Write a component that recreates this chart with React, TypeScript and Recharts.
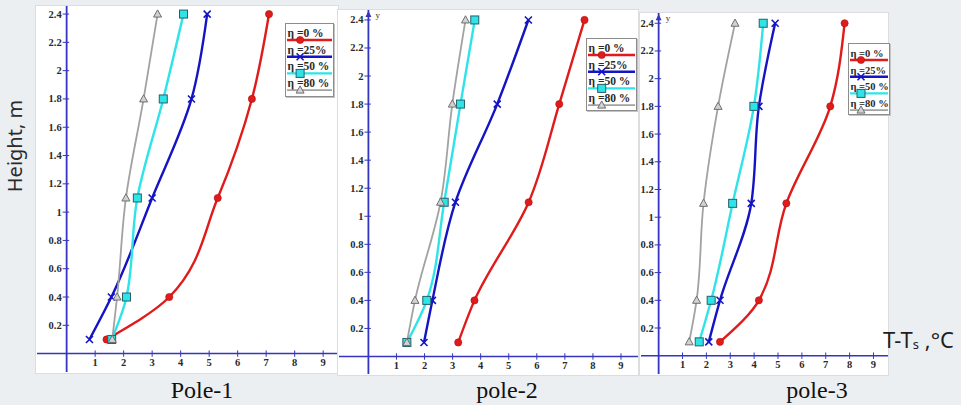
import { LineChart, Line, XAxis, YAxis, ReferenceLine, ReferenceDot } from "recharts";

// heights (m) where the temperature rise was measured
const heights = [0.1, 0.4, 1.1, 1.8, 2.4];
const xTicks = [1, 2, 3, 4, 5, 6, 7, 8, 9];
const yTicks = [0.2, 0.4, 0.6, 0.8, 1, 1.2, 1.4, 1.6, 1.8, 2, 2.2, 2.4];
const seriesLabels = ["η =0 %", "η =25%", "η =50 %", "η =80 %"];
const poleTitles = ["Pole-1", "pole-2", "pole-3"];

// T - Ts (°C) per height, one array per η
const pole1Eta0 = [1.4, 3.6, 5.3, 6.5, 7.1];
const pole1Eta25 = [0.8, 1.57, 3.0, 4.38, 4.93];
const pole1Eta50 = [1.58, 2.1, 2.48, 3.39, 4.1];
const pole1Eta80 = [1.6, 1.77, 2.08, 2.7, 3.19];

const pole2Eta0 = [3.2, 3.78, 5.71, 6.8, 7.7];
const pole2Eta25 = [1.98, 2.28, 3.1, 4.59, 5.7];
const pole2Eta50 = [1.37, 2.08, 2.7, 3.28, 3.79];
const pole2Eta80 = [1.37, 1.66, 2.57, 2.99, 3.46];

const pole3Eta0 = [2.57, 4.2, 5.35, 7.19, 7.79];
const pole3Eta25 = [2.1, 2.57, 3.88, 4.2, 4.88];
const pole3Eta50 = [1.7, 2.2, 3.1, 3.99, 4.38];
const pole3Eta80 = [1.28, 1.59, 1.88, 2.49, 3.2];

const toRows = (a: number[], b: number[], c: number[], d: number[]) =>
  heights.map((h, i) => ({ h, eta0: a[i], eta25: b[i], eta50: c[i], eta80: d[i] }));

const AXIS = "#3535bf";
const SERIF = "'Liberation Serif', 'Times New Roman', serif";

type MarkerKind = "circle" | "cross" | "square" | "triangle";

const series: { key: string; color: string; width: number; marker: MarkerKind }[] = [
  { key: "eta0", color: "#e01b1b", width: 2.4, marker: "circle" },
  { key: "eta25", color: "#1414c4", width: 2.4, marker: "cross" },
  { key: "eta50", color: "#2ee4e8", width: 2.4, marker: "square" },
  { key: "eta80", color: "#a2a2a2", width: 1.8, marker: "triangle" },
];

const panels = [
  {
    rows: toRows(pole1Eta0, pole1Eta25, pole1Eta50, pole1Eta80),
    left: 36, top: 6, width: 302, height: 367,
    xDomain: [-1.04, 9.52], yDomain: [-0.13, 2.457],
    legend: { left: 249, top: 17, width: 47, height: 72, font: 11.5 },
    titleX: 202,
    arrow: false,
  },
  {
    rows: toRows(pole2Eta0, pole2Eta25, pole2Eta50, pole2Eta80),
    left: 338, top: 10, width: 300, height: 365,
    xDomain: [-1.048, 9.606], yDomain: [-0.125, 2.471],
    legend: { left: 248, top: 28, width: 49, height: 71, font: 11.5 },
    titleX: 507,
    arrow: true,
  },
  {
    rows: toRows(pole3Eta0, pole3Eta25, pole3Eta50, pole3Eta80),
    left: 640, top: 13, width: 248, height: 362,
    xDomain: [-0.739, 9.608], yDomain: [-0.132, 2.474],
    legend: { left: 208, top: 30, width: 40, height: 70, font: 10.5 },
    titleX: 817,
    arrow: true,
  },
];

function Marker({ kind, cx, cy, color }: { kind: MarkerKind; cx: number; cy: number; color: string }) {
  if (kind === "circle") return <circle cx={cx} cy={cy} r={3.6} fill={color} stroke="#b01010" strokeWidth={0.6} />;
  if (kind === "cross")
    return (
      <path
        d={`M${cx - 3.5},${cy - 3.5}L${cx + 3.5},${cy + 3.5}M${cx - 3.5},${cy + 3.5}L${cx + 3.5},${cy - 3.5}`}
        stroke={color}
        strokeWidth={1.6}
        fill="none"
      />
    );
  if (kind === "square")
    return <rect x={cx - 4} y={cy - 4} width={8} height={8} fill={color} stroke="#25606a" strokeWidth={1} />;
  return (
    <path d={`M${cx},${cy - 4.2}L${cx + 4},${cy + 3}L${cx - 4},${cy + 3}Z`} fill="#d2d2d2" stroke="#6e6e6e" strokeWidth={1} />
  );
}

function PanelLegend({ box }: { box: { left: number; top: number; width: number; height: number; font: number } }) {
  const pitch = 16.7;
  return (
    <svg
      width={box.width}
      height={box.height}
      style={{
        position: "absolute",
        left: box.left,
        top: box.top,
        background: "#fff",
        border: "1px solid #8c8c8c",
        boxShadow: "1px 1px 0 #c4c4c4",
      }}
    >
      {series.map((s, i) => {
        const ly = 16 + i * pitch;
        return (
          <g key={s.key}>
            <text x={1.5} y={ly - 3} fontFamily={SERIF} fontWeight="bold" fontSize={box.font} fill="#2a2a2a">
              {seriesLabels[i]}
            </text>
            <line x1={1} x2={box.width - 1} y1={ly} y2={ly} stroke={s.color} strokeWidth={s.width} />
            <Marker kind={s.marker} cx={box.width * 0.3} cy={ly} color={s.color} />
          </g>
        );
      })}
    </svg>
  );
}

// axes take 1px so that Recharts still renders their ticks
const AXIS_SIZE = 1;

function Panel({ p }: { p: (typeof panels)[number] }) {
  const [x0, x1] = p.xDomain;
  const [y0, y1] = p.yDomain;
  const plotW = p.width - AXIS_SIZE;
  const plotH = p.height - AXIS_SIZE;
  const originX = AXIS_SIZE + (plotW * (0 - x0)) / (x1 - x0);
  const originY = (plotH * y1) / (y1 - y0);

  const xTick = (props: any) => (
    <g>
      <line x1={props.x} x2={props.x} y1={originY - 3.2} y2={originY + 3.2} stroke={AXIS} strokeWidth={1} />
      <text x={props.x} y={originY + 12.5} textAnchor="middle" fontFamily={SERIF} fontWeight="bold" fontSize={10.5} fill="#2a2a2a">
        {props.payload.value}
      </text>
    </g>
  );
  const yTick = (props: any) => (
    <g>
      <line x1={originX - 4} x2={originX + 2.5} y1={props.y} y2={props.y} stroke={AXIS} strokeWidth={1} />
      <text x={originX - 5} y={props.y + 3.5} textAnchor="end" fontFamily={SERIF} fontWeight="bold" fontSize={10.5} fill="#2a2a2a">
        {props.payload.value}
      </text>
    </g>
  );

  return (
    <div
      style={{
        position: "absolute",
        left: p.left,
        top: p.top,
        width: p.width,
        height: p.height,
        background: "#fff",
        boxShadow: "0 0 0 1px #dcdde0",
      }}
    >
      <LineChart
        width={p.width}
        height={p.height}
        data={p.rows}
        layout="vertical"
        margin={{ top: 0, right: 0, bottom: 0, left: 0 }}
      >
        <XAxis
          type="number"
          domain={p.xDomain}
          ticks={xTicks}
          interval={0}
          height={AXIS_SIZE}
          allowDataOverflow
          axisLine={false}
          tickLine={false}
          tick={xTick}
        />
        <YAxis
          type="number"
          dataKey="h"
          domain={p.yDomain}
          ticks={yTicks}
          interval={0}
          width={AXIS_SIZE}
          reversed
          allowDataOverflow
          axisLine={false}
          tickLine={false}
          tick={yTick}
        />
        <ReferenceLine x={0} stroke={AXIS} strokeWidth={1.8} />
        <ReferenceLine y={0} stroke={AXIS} strokeWidth={1.5} />
        {p.arrow && (
          <ReferenceDot
            x={0}
            y={2.4}
            ifOverflow="visible"
            shape={(d: any) => (
              <g>
                <path d={`M${d.cx},${d.cy - 9}L${d.cx + 3},${d.cy - 3}L${d.cx - 3},${d.cy - 3}Z`} fill={AXIS} />
                <text x={d.cx + 7} y={d.cy - 2} fontFamily={SERIF} fontSize={9} fill="#333">
                  y
                </text>
              </g>
            )}
          />
        )}
        {series.map((s) => (
          <Line
            key={s.key}
            dataKey={s.key}
            type="monotone"
            stroke={s.color}
            strokeWidth={s.width}
            isAnimationActive={false}
            activeDot={false}
            dot={(d: any) => <Marker key={`${s.key}-${d.index}`} kind={s.marker} cx={d.cx} cy={d.cy} color={s.color} />}
          />
        ))}
      </LineChart>
      <PanelLegend box={p.legend} />
    </div>
  );
}

export default function App() {
  return (
    <div
      style={{
        position: "absolute",
        left: 0,
        top: 0,
        width: 961,
        height: 405,
        background: "#eceff2",
        overflow: "hidden",
      }}
    >
      {panels.map((p, i) => (
        <Panel key={i} p={p} />
      ))}
      <svg width={961} height={405} style={{ position: "absolute", left: 0, top: 0, pointerEvents: "none" }}>
        <text
          transform="translate(22,146) rotate(-90)"
          textAnchor="middle"
          fontFamily="'Noto Sans', sans-serif"
          fontSize={20}
          fill="#2b2b2b"
        >
          Height, m
        </text>
        <text x={883} y={347.5} fontFamily="'Noto Sans', sans-serif" fontSize={22} fill="#1e1e1e">
          T-T
          <tspan fontSize={13} dy={1}>s</tspan>
          <tspan dy={-1}> ,°C</tspan>
        </text>
        {panels.map((p, i) => (
          <text key={i} x={p.titleX} y={398} textAnchor="middle" fontFamily={SERIF} fontSize={24} fill="#111">
            {poleTitles[i]}
          </text>
        ))}
      </svg>
    </div>
  );
}
